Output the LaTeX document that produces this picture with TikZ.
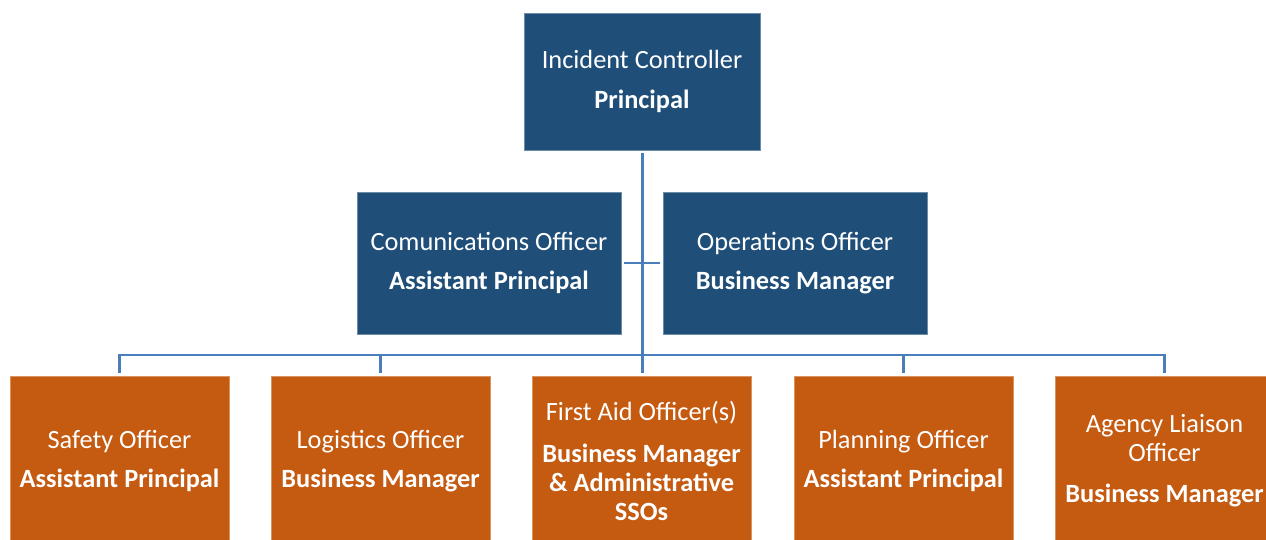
\documentclass[tikz,border=0pt]{standalone}
\usepackage{fontspec}
\setmainfont{Carlito}
\definecolor{boxblue}{HTML}{1F4E79}
\definecolor{boxorange}{HTML}{C55A11}
\definecolor{linkblue}{HTML}{4A7EBB}
\tikzset{
  rolebox/.style={inner sep=0pt, outer sep=0.06cm, align=center, text=white,
    font=\fontsize{15}{16.5}\selectfont},
  leadbox/.style={rolebox, fill=boxblue, draw=boxblue!65!white, line width=0.5pt},
  staffbox/.style={rolebox, fill=boxorange, draw=boxorange!65!white, line width=0.5pt,
    minimum width=4.38cm, minimum height=3.4cm},
  link/.style={draw=linkblue, line width=1.7pt}
}
\begin{document}
\begin{tikzpicture}[x=0.02cm, y=-0.02cm]
		\useasboundingbox (0, 0) rectangle (1266, 540); % picture frame, in pixels
		\clip (0, 0) rectangle (1266, 540);

		% cajas de mando
		\node[leadbox, minimum width=4.72cm, minimum height=2.74cm] (ic) at (642, 81.5) {Incident Controller\\[6pt]\textbf{Principal}};
		\node[leadbox, minimum width=5.28cm, minimum height=2.84cm] (comms) at (489, 263) {Comunications Officer\\[6pt]\textbf{Assistant Principal}};
		\node[leadbox, minimum width=5.28cm, minimum height=2.84cm] (ops) at (795, 263) {Operations Officer\\[6pt]\textbf{Business Manager}};

		% cajas de oficiales
		\node[staffbox] (safety) at (119.5, 461) {Safety Officer\\[6pt]\textbf{Assistant Principal}};
		\node[staffbox] (logistics) at (380.5, 461) {Logistics Officer\\[6pt]\textbf{Business Manager}};
		\node[staffbox] (firstaid) at (641.5, 461) {First Aid Officer(s)\\[7pt]\textbf{Business Manager}\\\textbf{\& Administrative}\\\textbf{SSOs}};
		\node[staffbox] (planning) at (903.5, 461) {Planning Officer\\[6pt]\textbf{Assistant Principal}};
		\node[staffbox] (liaison) at (1164.5, 461) {Agency Liaison\\Officer\\[7pt]\textbf{Business Manager}};

		% conectores
		\coordinate (bus) at (642, 355); % horizontal bar above the officers
		\draw[link] (ic.south) -- (ic.south |- firstaid.north); % main trunk
		\draw[link] (comms.east) -- (ops.west); % stub between the two officers
		\draw[link] (safety.north) |- (bus) -| (liaison.north);
		\foreach \n in {logistics, planning}
			\draw[link] (\n.north) -- (\n.north |- bus);
\end{tikzpicture}
\end{document}
